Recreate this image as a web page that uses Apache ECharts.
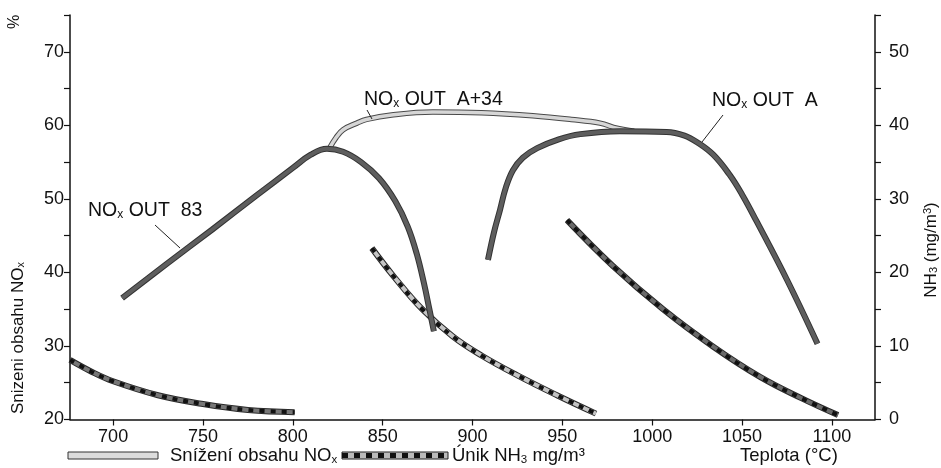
<!DOCTYPE html>
<html>
<head>
<meta charset="utf-8">
<script src="https://cdn.jsdelivr.net/npm/echarts@6/dist/echarts.min.js"></script>
<style>
  html, body { margin: 0; padding: 0; background: #fff; }
  #chart { width: 941px; height: 468px; }
</style>
</head>
<body>
<div id="chart"></div>
<script>
// osa x - teplota
var xTicks = [700, 750, 800, 850, 900, 950, 1000, 1050, 1100];

// snizeni obsahu NOx (%), dvojice [teplota, hodnota]
var noxOut83 = [[705, 36.5], [730, 41.2], [755, 45.8], [780, 50.5], [800, 54.2], [810, 56.0], [819, 56.8],
  [828, 56.4], [838, 55.0], [848, 52.8], [857, 49.7], [864, 46.2], [869, 42.5], [873, 38.5], [876, 35.0], [878.5, 32.0]];
var noxOutA34 = [[820.7, 57.0], [824, 58.3], [828, 59.4], [835.7, 60.3], [841, 60.8], [855, 61.4], [878, 61.8],
  [905, 61.7], [933.6, 61.3], [955, 60.8], [971, 60.3], [980.4, 59.6], [990, 59.2]];
var noxOutA = [[908.6, 41.7], [912, 45.5], [915.3, 48.5], [918.5, 51.5], [922.5, 53.9], [928, 55.6], [936, 56.9],
  [948, 58.1], [960, 58.8], [982, 59.2], [1008, 59.1], [1018, 58.6], [1025, 57.7], [1034, 56.0], [1043, 53.3],
  [1050, 50.6], [1058, 47.0], [1075, 39.0], [1092, 30.3]];

// unik NH3 (mg/m3)
var nh3First = [[676, 8.1], [688, 6.5], [700, 5.2], [725, 3.3], [750, 2.1], [775, 1.3], [801, 1.0]];
var nh3Second = [[844, 23.3], [856, 19.5], [872, 15.0], [889, 11.3], [905, 8.7], [925, 6.0], [947, 3.3], [968.7, 0.8]];
var nh3Third = [[952.6, 27.1], [978, 20.9], [1006, 15.0], [1034, 9.9], [1060, 5.8], [1083, 2.9], [1103.4, 0.6]];

var FONT = '"Liberation Sans", Arial, sans-serif';

// obrysova cara = dve serie pres sebe
function outlined(data, fill, edge, w, yIdx, z) {
  return [
    { type: 'line', data: data, yAxisIndex: yIdx, smooth: 0.4, symbol: 'none', z: z,
      lineStyle: { color: edge, width: w + 2 } },
    { type: 'line', data: data, yAxisIndex: yIdx, smooth: 0.4, symbol: 'none', z: z,
      lineStyle: { color: fill, width: w } }
  ];
}
function dashed(data, fill, z) {
  var s = outlined(data, fill, '#2a2a2a', 4, 1, z);
  s.push({ type: 'line', data: data, yAxisIndex: 1, smooth: 0.4, symbol: 'none', z: z,
    lineStyle: { color: '#111', width: 4, type: [5, 6] } });
  return s;
}

var series = [].concat(
  outlined(noxOutA34, '#d6d6d6', '#4a4a4a', 3.5, 0, 2),
  dashed(nh3First, '#777', 3),
  dashed(nh3Second, '#c4c4c4', 3),
  dashed(nh3Third, '#6a6a6a', 3),
  outlined(noxOut83, '#5e5e5e', '#333', 4, 0, 4),
  outlined(noxOutA, '#5e5e5e', '#333', 4, 0, 4)
);

function richSet(big, small) {
  return { a: { fontSize: big, fontFamily: FONT, fill: '#111' },
           s: { fontSize: small, fontFamily: FONT, fill: '#111', verticalAlign: 'bottom', padding: [Math.round(big * 0.36), 0, 0, 0] } };
}
var labStyle = richSet(19.5, 12);
var legStyle = richSet(18.5, 11.5);
var axStyle = richSet(17, 11);

function label(x, y, txt, rich) {
  return { type: 'text', x: x, y: y, z: 10,
    style: { text: txt, rich: rich || labStyle, verticalAlign: 'middle', fill: '#111' } };
}
function leader(x1, y1, x2, y2) {
  return { type: 'line', z: 10, shape: { x1: x1, y1: y1, x2: x2, y2: y2 }, style: { stroke: '#222', lineWidth: 1 } };
}

var chart = echarts.init(document.getElementById('chart'));
chart.setOption({
  animation: false,
  backgroundColor: '#fff',
  grid: { left: 70, right: 66, top: 15, bottom: 48.5 },
  xAxis: {
    type: 'value', min: 676, max: 1124,
    axisLine: { lineStyle: { color: '#111', width: 1.5 } },
    axisTick: { customValues: xTicks, length: 6, lineStyle: { color: '#111', width: 1.2 } },
    axisLabel: { customValues: xTicks, margin: 9, fontSize: 18, fontFamily: FONT, color: '#111',
      formatter: function (v) { return String(v); } },
    splitLine: { show: false }
  },
  yAxis: [{
    type: 'value', min: 20, max: 75, interval: 5, position: 'left',
    axisLine: { show: true, lineStyle: { color: '#111', width: 1.5 } },
    axisTick: { show: true, length: 6, lineStyle: { color: '#111', width: 1.2 } },
    axisLabel: { fontSize: 18, fontFamily: FONT, color: '#111', margin: 6,
      formatter: function (v) { return v % 10 === 0 ? String(v) : ''; } },
    splitLine: { show: false }
  }, {
    type: 'value', min: 0, max: 55, interval: 5, position: 'right',
    axisLine: { show: true, lineStyle: { color: '#111', width: 1.5 } },
    axisTick: { show: true, length: 6, lineStyle: { color: '#111', width: 1.2 } },
    axisLabel: { fontSize: 18, fontFamily: FONT, color: '#111', margin: 14,
      formatter: function (v) { return v % 10 === 0 ? String(v) : ''; } },
    splitLine: { show: false }
  }],
  series: series,
  graphic: [
    label(88, 211, '{a|NO}{s|x}{a| OUT  83}'),
    leader(155, 225, 180, 248),
    label(364, 100, '{a|NO}{s|x}{a| OUT  A+34}'),
    leader(367, 110, 372, 119),
    label(712, 101, '{a|NO}{s|x}{a| OUT  A}'),
    leader(723, 115, 702, 142),
    { type: 'text', x: 15, y: 22, rotation: Math.PI / 2,
      style: { text: '%', fontSize: 16, fontFamily: FONT, fill: '#111', align: 'center', verticalAlign: 'middle' } },
    { type: 'text', x: 18, y: 338, rotation: Math.PI / 2,
      style: { text: '{a|Snizeni obsahu NO}{s|x}', rich: axStyle, align: 'center', verticalAlign: 'middle' } },
    { type: 'text', x: 931, y: 250, rotation: Math.PI / 2,
      style: { text: '{a|NH}{s|3}{a| (mg/m}{u|3}{a|)}', align: 'center', verticalAlign: 'middle',
        rich: { a: axStyle.a, s: axStyle.s, u: { fontSize: 11, fontFamily: FONT, fill: '#111', verticalAlign: 'top' } } } },
    // legenda dole
    { type: 'rect', shape: { x: 68, y: 452, width: 90, height: 7 }, style: { fill: '#dcdcdc', stroke: '#333', lineWidth: 1 } },
    label(170, 456, '{a|Snížení obsahu NO}{s|x}', legStyle),
    { type: 'rect', shape: { x: 342, y: 452, width: 106, height: 7 }, style: { fill: '#bbb', stroke: '#222', lineWidth: 1 } },
    { type: 'line', shape: { x1: 342, y1: 455.5, x2: 448, y2: 455.5 }, style: { stroke: '#111', lineWidth: 5, lineDash: [6, 6] } },
    label(452, 456, '{a|Únik NH}{s|3}{a| mg/m³}', legStyle),
    label(740, 456, '{a|Teplota (°C)}', legStyle)
  ]
});
</script>
</body>
</html>
